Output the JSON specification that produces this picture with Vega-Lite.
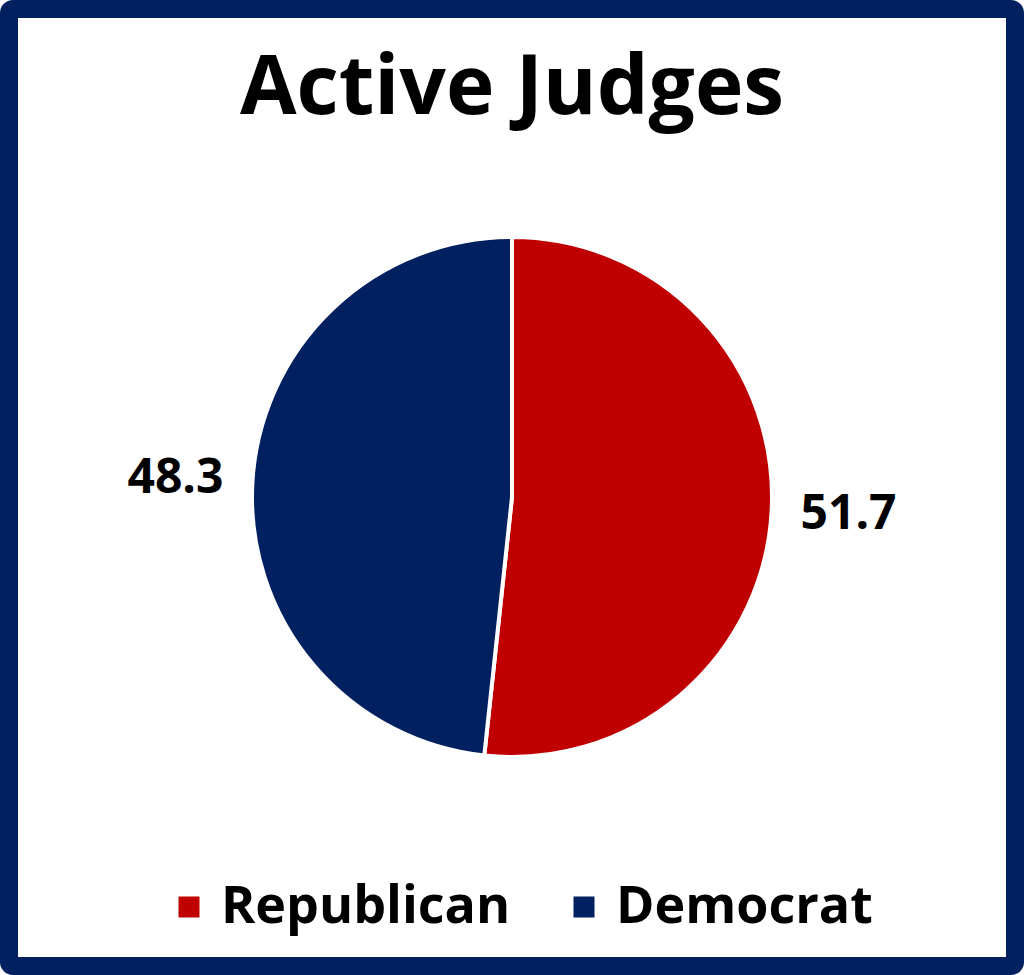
{
  "$schema": "https://vega.github.io/schema/vega-lite/v6.json",
  "width": 1024,
  "height": 975,
  "autosize": {"type": "fit", "contains": "padding"},
  "padding": 0,
  "background": "white",
  "datasets": {
    "parties": [
      {"party": "Republican", "value": 51.7},
      {"party": "Democrat", "value": 48.3}
    ],
    "heading": [{"title": "Active Judges"}]
  },
  "layer": [
    {
      "data": {"name": "parties"},
      "encoding": {
        "theta": {"field": "value", "type": "quantitative", "stack": true},
        "order": {"field": "value", "type": "quantitative", "sort": "descending"},
        "color": {
          "field": "party",
          "type": "nominal",
          "sort": ["Republican", "Democrat"],
          "scale": {"domain": ["Republican", "Democrat"], "range": ["#C00000", "#002060"]},
          "legend": {
            "orient": "none",
            "direction": "horizontal",
            "legendX": 154,
            "legendY": 872,
            "title": null,
            "symbolType": "square",
            "symbolSize": 441,
            "symbolStrokeWidth": 0,
            "labelFont": "Open Sans",
            "labelFontSize": 52,
            "labelFontWeight": "bold",
            "labelColor": "black",
            "labelOffset": 6,
            "columnPadding": 47,
            "labelLimit": 500
          }
        }
      },
      "layer": [
        {
          "mark": {"type": "arc", "outerRadius": 260, "stroke": "white", "strokeWidth": 4, "yOffset": 9.5}
        },
        {
          "mark": {"type": "text", "radius": 337, "font": "Open Sans", "fontSize": 48, "fontWeight": "bold", "yOffset": 9.5},
          "encoding": {
            "text": {"field": "value", "type": "quantitative", "format": ".1f"},
            "color": {"value": "black"}
          }
        }
      ]
    },
    {
      "data": {"name": "heading"},
      "mark": {"type": "text", "font": "Open Sans", "fontSize": 82, "fontWeight": "bold", "color": "black", "align": "center", "baseline": "alphabetic", "dy": -373.5},
      "encoding": {"text": {"field": "title", "type": "nominal"}}
    },
    {
      "data": {"values": [{"name": "border"}]},
      "mark": {"type": "rect", "fill": null, "stroke": "#002060", "strokeWidth": 18, "cornerRadius": 4},
      "encoding": {}
    }
  ],
  "config": {
    "view": {"stroke": null}
  }
}
